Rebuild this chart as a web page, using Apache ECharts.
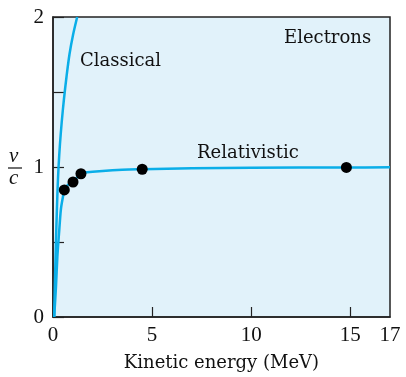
<!DOCTYPE html>
<html><head><meta charset="utf-8">
<script src="https://cdn.jsdelivr.net/npm/echarts@6/dist/echarts.min.js"></script>
<style>html,body{margin:0;padding:0;background:#fff}#c{width:406px;height:377px}</style>
</head><body><div id="c"></div>
<script>
// Kinetic energy (MeV) vs v/c
const classicalK = [0.06, 0.11, 0.17, 0.23, 0.28, 0.35, 0.44, 0.55, 0.68, 0.83, 1.01, 1.22];
const classicalV = [0, 0.3, 0.6, 0.85, 1.0, 1.15, 1.3, 1.45, 1.6, 1.75, 1.88, 2.0];
const relK = [0.06, 0.15, 0.22, 0.3, 0.4, 0.5, 0.57, 0.75, 1.0, 1.41, 2, 3, 4.5, 7, 10, 14.8, 17];
const relV = [0, 0.2, 0.4, 0.55, 0.72, 0.8, 0.845, 0.88, 0.9, 0.955, 0.968, 0.979, 0.985, 0.992, 0.995, 0.997, 0.998];
const pointK = [0.57, 1.01, 1.41, 4.5, 14.8];
const pointV = [0.847, 0.9, 0.955, 0.985, 0.997];
const xLabels = [0, 5, 10, 15, 17];
const xTicks = [5, 10, 15];
const yLabels = [0, 1, 2];

const serif = '"Liberation Serif", "DejaVu Serif", serif';
const wide = '"DejaVu Serif", "Liberation Serif", serif';
const zip = (a, b) => a.map((v, i) => [v, b[i]]);
const chart = echarts.init(document.getElementById('c'), null, {renderer: 'canvas'});
chart.setOption({
  animation: false,
  grid: {left: 53, top: 17, right: 16, bottom: 57, show: true, backgroundColor: '#e1f2fa', borderColor: '#222', borderWidth: 1.5},
  xAxis: {
    type: 'value', min: 0, max: 17,
    name: 'Kinetic energy (MeV)', nameLocation: 'middle', nameGap: 37,
    nameTextStyle: {fontFamily: wide, fontSize: 18, color: '#111'},
    axisLine: {show: true, lineStyle: {color: '#222', width: 1.5}},
    axisTick: {show: true, inside: true, length: 10, customValues: xTicks, lineStyle: {color: '#222', width: 1.2}},
    axisLabel: {customValues: xLabels, fontFamily: serif, fontSize: 21, color: '#111', margin: 8},
    splitLine: {show: false}
  },
  yAxis: {
    type: 'value', min: 0, max: 2, interval: 0.5,
    axisLine: {show: true, lineStyle: {color: '#222', width: 1.5}},
    axisTick: {show: true, inside: true, length: 11, lineStyle: {color: '#222', width: 1.2}},
    axisLabel: {fontFamily: serif, fontSize: 21, color: '#111', margin: 9,
      formatter: v => (yLabels.indexOf(v) >= 0 ? String(v) : '')},
    splitLine: {show: false}
  },
  series: [
    {type: 'line', data: zip(classicalK, classicalV), showSymbol: false, smooth: 0.3, clip: true,
     lineStyle: {color: '#0aaee8', width: 2.5}},
    {type: 'line', data: zip(relK, relV), showSymbol: false, smooth: 0.3, clip: true,
     lineStyle: {color: '#0aaee8', width: 2.5}},
    {type: 'scatter', data: zip(pointK, pointV), symbolSize: 11, itemStyle: {color: '#000', opacity: 1}, z: 5}
  ],
  graphic: [
    {type: 'text', left: 80, top: 52, style: {text: 'Classical', font: '18px ' + wide, fill: '#111'}},
    {type: 'text', left: 284, top: 29, style: {text: 'Electrons', font: '18px ' + wide, fill: '#111'}},
    {type: 'text', left: 197, top: 144, style: {text: 'Relativistic', font: '18px ' + wide, fill: '#111'}},
    {type: 'text', left: 9, top: 146, style: {text: 'v', font: 'italic 21px ' + serif, fill: '#111'}},
    {type: 'line', shape: {x1: 8, y1: 168, x2: 22, y2: 168}, style: {stroke: '#111', lineWidth: 1.2}},
    {type: 'text', left: 9, top: 168, style: {text: 'c', font: 'italic 21px ' + serif, fill: '#111'}}
  ]
});
</script></body></html>
